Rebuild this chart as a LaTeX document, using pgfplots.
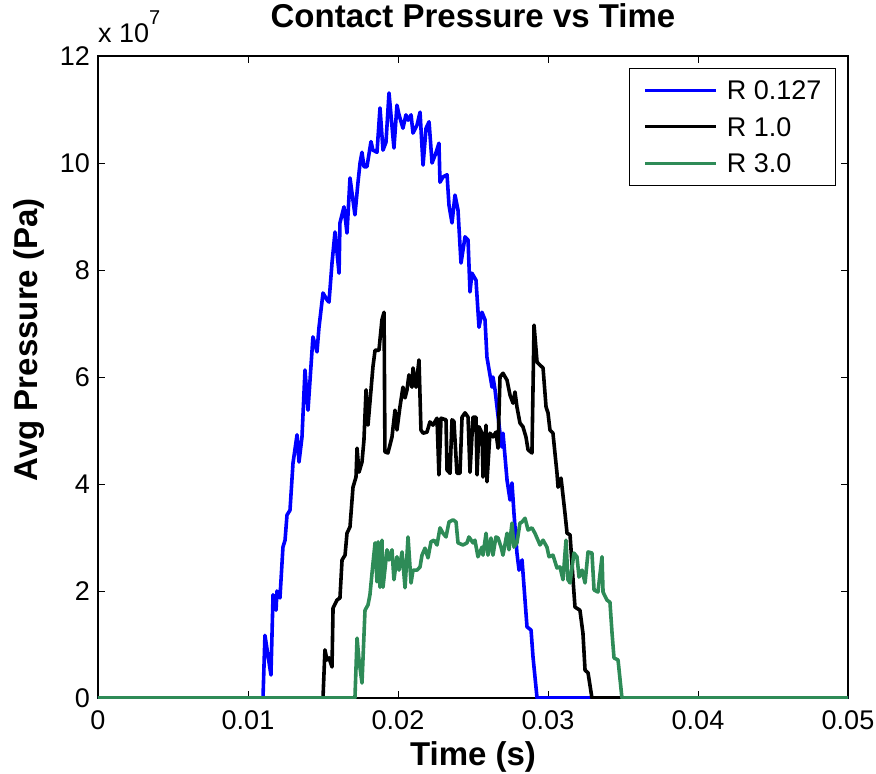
\documentclass[border=0pt]{standalone}
\usepackage{pgfplots}
\pgfplotsset{compat=1.18}
\usepackage{fontspec}
\setmainfont{Liberation Sans}
\definecolor{mgreen}{RGB}{46,139,87}
\newcommand{\tickfont}{\fontsize{27pt}{32pt}\selectfont}
\newcommand{\labfont}{\bfseries\fontsize{33pt}{38pt}\selectfont}
\begin{document}
\begin{tikzpicture}
\begin{axis}[
  scale only axis, width=750pt, height=642pt,
  xmin=0, xmax=0.05, ymin=0, ymax=12,
  clip mode=individual,
  xtick={0,0.01,0.02,0.03,0.04,0.05},
  xticklabels={0,0.01,0.02,0.03,0.04,0.05},
  ytick={0,2,4,6,8,10,12},
  yticklabels={0,2,4,6,8,10,12},
  scaled x ticks=false, scaled y ticks=false,
  tick align=inside, major tick length=7pt,
  every tick/.style={black, line width=0.8pt},
  axis line style={black, line width=1.1pt},
  /pgf/number format/assume math mode=true,
  xticklabel style={font=\tickfont, anchor=base, inner sep=0pt, yshift=-31pt},
  yticklabel style={font=\tickfont, anchor=east, inner sep=0pt, xshift=-8pt},
  title={Contact Pressure vs Time},
  title style={at={(axis description cs:0.5,1.0358)}, anchor=base, font=\labfont, inner sep=0pt},
  xlabel={Time (s)},
  xlabel style={at={(axis description cs:0.5,-0.1044)}, anchor=base, font=\labfont, inner sep=0pt},
  ylabel={Avg Pressure (Pa)},
  ylabel style={at={(axis description cs:-0.092,0.558)}, anchor=center, font=\labfont, inner sep=0pt},
  legend cell align=left,
  legend image code/.code={\draw[#1, line width=3.3pt] (0pt,0pt) -- (71pt,0pt);},
  legend style={at={(rel axis cs:1,1)}, anchor=north east, xshift=-12pt, yshift=-12pt,
    draw=black, line width=1pt, fill=white, font=\tickfont,
    inner xsep=14pt, inner ysep=12.3pt, row sep=17.7pt, column sep=9pt,
    nodes={inner sep=0pt, text depth=0pt}, cells={anchor=west}},
]
\addplot[blue, line width=3.6pt, line join=round] coordinates {
(0,0) (0.01100,0) (0.01113,1.17) (0.01153,0.43) (0.01167,1.93) (0.01187,1.64) (0.01193,2.0)
(0.01213,1.87) (0.01233,2.82) (0.01247,2.95) (0.01260,3.42) (0.01280,3.51) (0.01300,4.39)
(0.01327,4.92) (0.01340,4.41) (0.01360,4.88) (0.01380,6.13) (0.01400,5.38) (0.01433,6.75)
(0.01460,6.47) (0.01473,6.92) (0.01500,7.57) (0.01527,7.44) (0.01540,7.40) (0.01560,8.13)
(0.01580,8.71) (0.01607,7.94) (0.01613,8.88) (0.01640,9.18) (0.01660,8.69) (0.01680,9.72)
(0.01713,9.03) (0.01733,9.63) (0.01747,10.0) (0.01760,10.2) (0.01773,9.93) (0.01793,9.93)
(0.01820,10.4) (0.01833,10.24) (0.01860,10.2) (0.01880,11.03) (0.01900,10.24) (0.01920,10.39)
(0.01940,11.31) (0.01973,10.28) (0.01993,11.08) (0.02007,10.9) (0.02033,10.65) (0.02053,10.9)
(0.02067,10.8) (0.02087,10.9) (0.02100,10.56) (0.02127,10.71) (0.02147,10.95) (0.02167,9.96)
(0.02187,10.65) (0.02207,10.77) (0.02227,10.0) (0.02253,10.19) (0.02273,10.37) (0.02280,9.64)
(0.02300,9.74) (0.02327,9.78) (0.02340,9.21) (0.02360,8.88) (0.02380,9.40) (0.02400,9.12)
(0.02420,8.13) (0.02447,8.62) (0.02467,8.56) (0.02480,7.59) (0.02493,7.94) (0.02520,7.81)
(0.02540,6.93) (0.02560,7.21) (0.02580,7.07) (0.02593,6.37) (0.02627,5.81) (0.02633,6.0)
(0.02647,5.76) (0.02680,4.95) (0.02693,4.69) (0.02700,4.95) (0.02727,4.07) (0.02747,3.70)
(0.02760,4.02) (0.02773,3.46) (0.02793,2.71) (0.02807,2.39) (0.02827,2.58) (0.02860,1.33)
(0.02887,1.27) (0.02900,0.77) (0.02927,0) (0.05,0)
};
\addlegendentry{R 0.127}
\addplot[black, line width=3.6pt, line join=round] coordinates {
(0,0) (0.01500,0) (0.01513,0.9) (0.01527,0.71) (0.01540,0.75) (0.01560,0.58) (0.01567,1.68)
(0.01593,1.83) (0.01613,1.87) (0.01627,2.58) (0.01647,2.67) (0.01660,3.08) (0.01680,3.2)
(0.01700,3.94) (0.01720,4.13) (0.01727,4.67) (0.01740,4.22) (0.01760,4.41) (0.01773,4.82)
(0.01787,5.76) (0.01800,5.10) (0.01820,5.76) (0.01833,6.19) (0.01847,6.50) (0.01873,6.50)
(0.01893,7.07) (0.01907,7.21) (0.01913,4.60) (0.01933,4.58) (0.01960,4.88) (0.01980,5.38)
(0.01993,5.01) (0.02013,5.44) (0.02033,5.81) (0.02047,5.61) (0.02060,5.76) (0.02073,6.04)
(0.02093,5.81) (0.02100,6.17) (0.02120,5.81) (0.02140,6.32) (0.02153,5.01) (0.02167,4.95)
(0.02193,4.97) (0.02213,5.16) (0.02233,5.10) (0.02260,5.23) (0.02273,4.17) (0.02287,5.23)
(0.02320,5.2) (0.02327,4.26) (0.02347,4.2) (0.02360,5.2) (0.02373,5.17) (0.02393,4.2)
(0.02413,4.2) (0.02427,5.25) (0.02447,5.33) (0.02467,5.25) (0.02480,4.22) (0.02500,5.25)
(0.02520,5.25) (0.02527,4.17) (0.02540,5.07) (0.02560,4.95) (0.02567,4.13) (0.02587,5.10)
(0.02593,4.04) (0.02613,4.95) (0.02633,4.88) (0.02653,4.97) (0.02667,4.67) (0.02680,6.0)
(0.02700,6.07) (0.02727,5.94) (0.02747,5.66) (0.02767,5.51) (0.02780,5.72) (0.02793,5.44)
(0.02813,5.14) (0.02833,5.07) (0.02853,4.88) (0.02867,4.64) (0.02893,4.58) (0.02907,6.97)
(0.02927,6.28) (0.02947,6.22) (0.02967,6.17) (0.02987,5.44) (0.03000,5.33) (0.03013,5.01)
(0.03033,4.95) (0.03060,4.2) (0.03067,3.94) (0.03087,4.11) (0.03113,3.46) (0.03127,3.08)
(0.03147,3.05) (0.03167,2.21) (0.03180,1.70) (0.03213,1.64) (0.03233,1.21) (0.03247,0.52)
(0.03267,0.47) (0.03293,0) (0.05,0)
};
\addlegendentry{R 1.0}
\addplot[mgreen, line width=3.6pt, line join=round] coordinates {
(0,0) (0.01713,0) (0.01727,1.12) (0.01740,0.71) (0.01760,0.28) (0.01780,1.64) (0.01800,1.74)
(0.01813,1.93) (0.01827,2.34) (0.01847,2.90) (0.01860,2.17) (0.01867,2.92) (0.01880,2.07)
(0.01893,2.95) (0.01900,2.07) (0.01927,2.77) (0.01940,2.58) (0.01960,2.77) (0.01973,2.21)
(0.01993,2.64) (0.02007,2.39) (0.02027,2.73) (0.02047,2.06) (0.02067,3.01) (0.02087,2.15)
(0.02100,2.39) (0.02127,2.39) (0.02147,2.45) (0.02160,2.67) (0.02180,2.80) (0.02200,2.62)
(0.02220,2.92) (0.02240,2.95) (0.02260,2.86) (0.02280,3.18) (0.02300,3.08) (0.02320,3.01)
(0.02340,3.29) (0.02367,3.33) (0.02387,3.29) (0.02400,2.90) (0.02433,2.86) (0.02460,2.90)
(0.02473,3.01) (0.02500,2.90) (0.02513,2.95) (0.02533,2.64) (0.02560,2.82) (0.02567,2.67)
(0.02587,3.08) (0.02600,2.67) (0.02620,2.99) (0.02633,2.67) (0.02653,3.01) (0.02667,2.99)
(0.02687,2.82) (0.02700,2.67) (0.02727,3.08) (0.02740,2.77) (0.02760,3.27) (0.02773,2.82)
(0.02793,2.90) (0.02813,3.27) (0.02827,3.29) (0.02847,3.36) (0.02867,3.14) (0.02893,3.18)
(0.02913,3.08) (0.02947,2.86) (0.02967,2.95) (0.02993,2.82) (0.03007,2.64) (0.03033,2.67)
(0.03060,2.43) (0.03080,2.45) (0.03100,2.21) (0.03120,2.95) (0.03133,2.21) (0.03147,2.15)
(0.03173,2.71) (0.03193,2.64) (0.03207,2.26) (0.03227,2.39) (0.03247,2.15) (0.03267,2.73)
(0.03293,2.71) (0.03307,2.02) (0.03333,1.98) (0.03360,2.64) (0.03367,1.98) (0.03393,1.83)
(0.03413,1.79) (0.03427,1.21) (0.03440,0.75) (0.03467,0.71) (0.03493,0) (0.05,0)
};
\addlegendentry{R 3.0}
\end{axis}
\node[anchor=base west, inner sep=0pt, font=\tickfont] at ([yshift=13pt]current axis.north west)
  {x 10\raisebox{18pt}{\fontsize{20pt}{24pt}\selectfont 7}};
\path (current axis.south west) ++(-98pt,-76pt) rectangle ++(876pt,774pt);
\end{tikzpicture}
\end{document}
